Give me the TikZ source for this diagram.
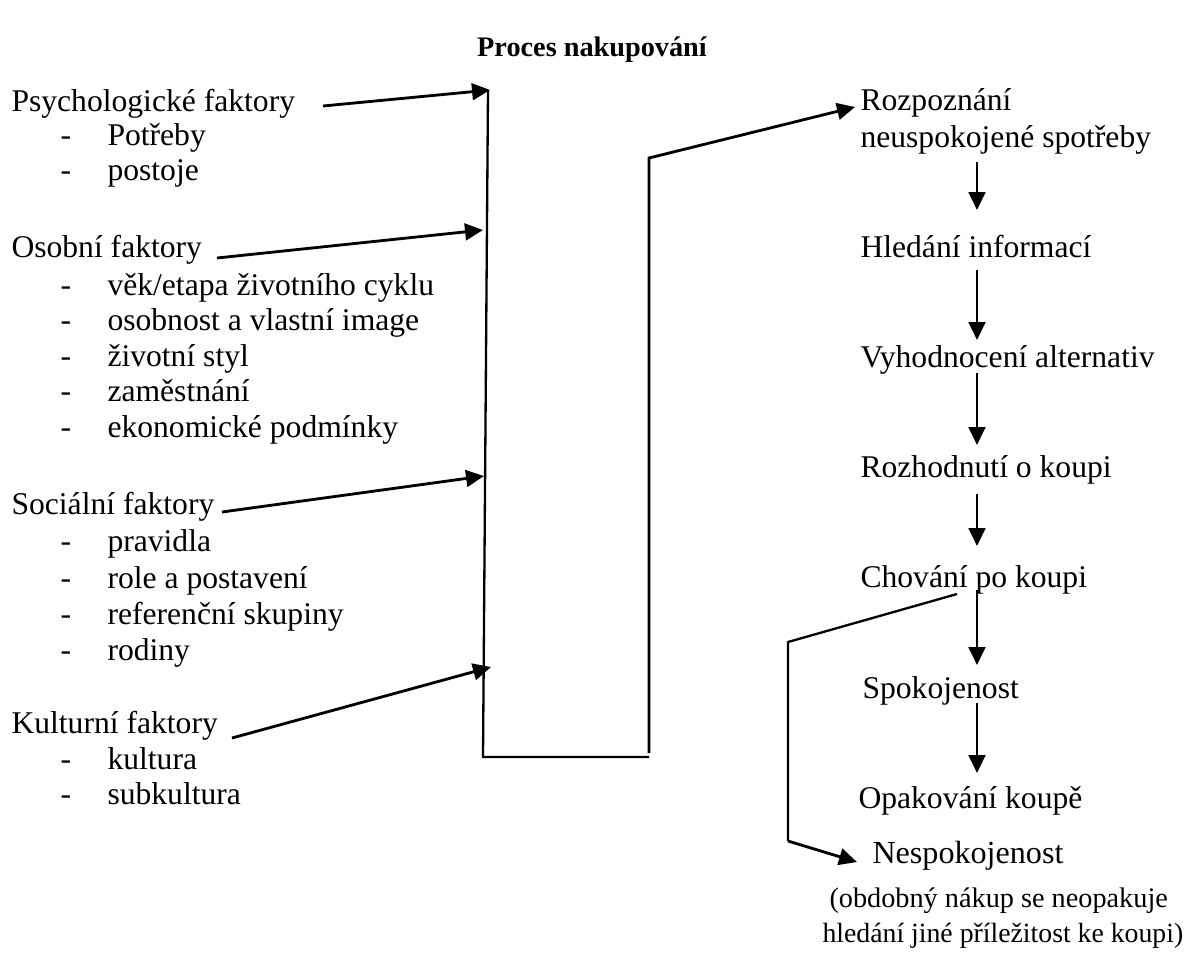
\documentclass[tikz,border=0pt]{standalone}
\usepackage{fontspec}
\setmainfont{Liberation Serif}
\usetikzlibrary{arrows.meta}
\newcommand\listline[3]{\node[txt] (d#1) at (60,#2) {-}; \node[txt] (#1) at (107,#2) {#3};}
\begin{document}
\begin{tikzpicture}[x=0.3891pt,y=-0.3891pt,
  txt/.style={anchor=base west,inner sep=0pt,font=\fontsize{12.3}{14}\selectfont},
  ttl/.style={anchor=base,inner sep=0pt,font=\fontsize{11}{13}\selectfont\bfseries},
  ln/.style={line width=0.9pt,line join=miter},
  arr/.style={line width=1.1pt,line join=miter,-{Triangle[length=7pt,width=6.5pt]}}]
\useasboundingbox[fill=white] (0,0) rectangle (1185,961);

\node[ttl] (title) at (592,56) {Proces nakupování};

% left column
\node[txt] (psy) at (11,111) {Psychologické faktory};
\listline{p1}{145}{Potřeby}
\listline{p2}{180}{postoje}
\node[txt] (oso) at (11,257) {Osobní faktory};
\listline{o1}{295}{věk/etapa životního cyklu}
\listline{o2}{330.5}{osobnost a vlastní image}
\listline{o3}{366}{životní styl}
\listline{o4}{401.5}{zaměstnání}
\listline{o5}{437}{ekonomické podmínky}
\node[txt] (soc) at (11,514) {Sociální faktory};
\listline{s1}{551}{pravidla}
\listline{s2}{588}{role a postavení}
\listline{s3}{624}{referenční skupiny}
\listline{s4}{660}{rodiny}
\node[txt] (kul) at (11,733) {Kulturní faktory};
\listline{k1}{769}{kultura}
\listline{k2}{804}{subkultura}

% right column
\node[txt] (r1a) at (860,110) {Rozpoznání};
\node[txt] (r1b) at (860,147) {neuspokojené spotřeby};
\node[txt] (r2) at (860,257) {Hledání informací};
\node[txt] (r3) at (860,367) {Vyhodnocení alternativ};
\node[txt] (r4) at (860,477) {Rozhodnutí o koupi};
\node[txt] (r5) at (860,587) {Chování po koupi};
\node[txt] (r6) at (862,698) {Spokojenost};
\node[txt] (r7) at (858,808) {Opakování koupě};
\node[txt,font=\fontsize{12.5}{15}\selectfont] (n1) at (872,863) {Nespokojenost};
\node[txt,font=\fontsize{11}{13}\selectfont] (n2) at (829,907) {(obdobný nákup se neopakuje};
\node[txt,font=\fontsize{10.8}{13}\selectfont] (n3) at (822,942) {hledání jiné příležitost ke koupi)};

% connector coordinates
\coordinate (psyS) at (323,106); \coordinate (psyT) at (490,90);
\coordinate (osoS) at (217,258); \coordinate (osoT) at (483,230);
\coordinate (socS) at (222,512); \coordinate (socT) at (484,476);
\coordinate (kulS) at (232,738); \coordinate (kulT) at (491,667);
\coordinate (vTop) at (488,90);
\coordinate (vBot) at (483,757);
\coordinate (hR) at (649,757);
\coordinate (rBot) at (649,753);
\coordinate (rTop) at (649,158);
\coordinate (rEnd) at (855,107);

\draw[arr] (psyS) -- (psyT);
\draw[arr] (osoS) -- (osoT);
\draw[arr] (socS) -- (socT);
\draw[arr] (kulS) -- (kulT);
\draw[ln] (vTop) -- (vBot) -- (hR);
\draw[arr] (rBot) -- (rTop) -- (rEnd);

% process arrows
\foreach \a/\b [count=\i] in {162/210,270/340,373/445,494/546,590/665,703/773}{
  \coordinate (a\i s) at (977,\a);
  \coordinate (a\i e) at (977,\b);
  \draw[arr] (a\i s) -- (a\i e);
}

% dissatisfaction branch
\coordinate (nS) at (957,594);
\coordinate (nC1) at (788,642);
\coordinate (nC2) at (788,841);
\coordinate (nE) at (857,862);
\draw[ln] (nS) -- (nC1) -- (nC2);
\draw[arr] (nC2) -- (nE);
\end{tikzpicture}
\end{document}
